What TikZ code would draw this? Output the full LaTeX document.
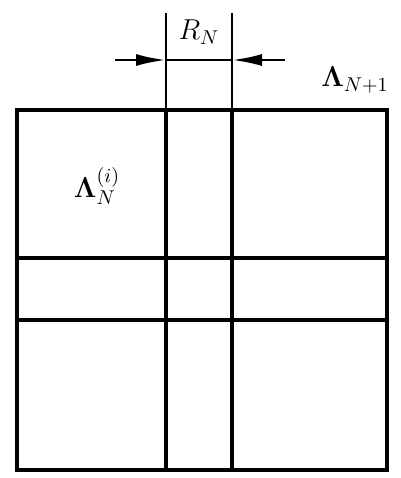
\documentclass[tikz,border=0pt]{standalone}
\usetikzlibrary{arrows.meta}
\begin{document}
\begin{tikzpicture}[x=0.5pt,y=-0.5pt]
\tikzstyle{every node}=[font=\Large]
\tikzset{gridline/.style={line width=1.8pt},
	dimline/.style={line width=1pt},
	dimarrow/.style={line width=1.3pt,-{Latex[length=15pt,width=6pt]}}}
	\useasboundingbox (0,0) rectangle (401,478);
	% outer square and the two strips
	\draw[gridline] (17,110) rectangle (387,470);
	\draw[gridline] (166,110) to (166,470);
	\draw[gridline] (232,110) to (232,470);
	\draw[gridline] (17,258) to (387,258);
	\draw[gridline] (17,320) to (387,320);

	% width of the strip
	\coordinate (tl) at (166,13);
	\coordinate (tr) at (232,13);
	\coordinate (al) at (166,60);
	\coordinate (ar) at (232,60);
	\coordinate (tailL) at (115,60);
	\coordinate (tailR) at (285,60);
	\draw[dimline] (tl) to (166,110);
	\draw[dimline] (tr) to (232,110);
	\draw[dimline] (al) to (ar);
	\draw[dimarrow] (tailL) to (al);
	\draw[dimarrow] (tailR) to (ar);
	\node (rn) at (199,32) {$R_N$};

	\node (big) at (355,80) {$\mathbf{\Lambda}_{N+1}$};
	\node (small) at (97,186) {$\mathbf{\Lambda}_N^{(i)}$};
\end{tikzpicture}
\end{document}
